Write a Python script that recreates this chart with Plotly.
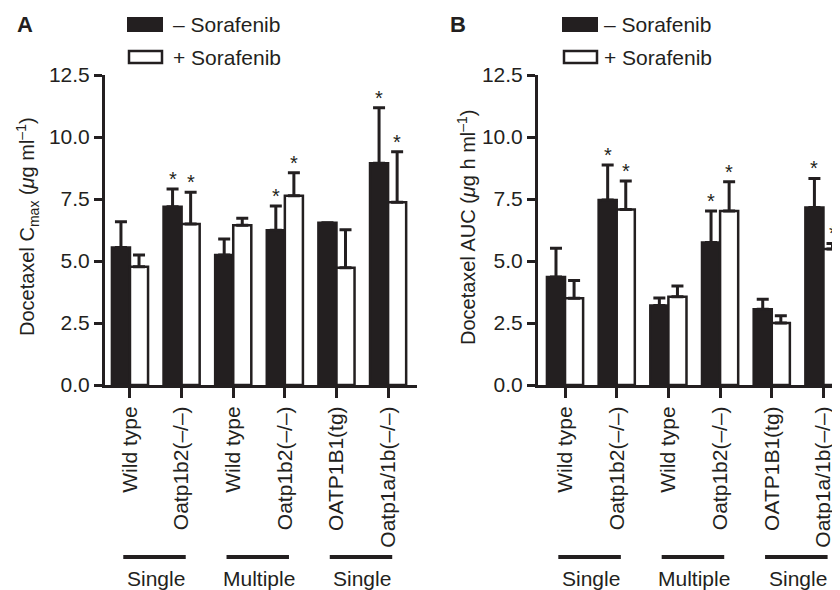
import plotly.graph_objects as go

# ---------------- data ----------------
categories = ["Wild type", "Oatp1b2(–/–)", "Wild type", "Oatp1b2(–/–)", "OATP1B1(tg)", "Oatp1a/1b(–/–)"]

cmax_minus = [5.54, 7.19, 5.24, 6.24, 6.54, 8.94]
cmax_minus_sd = [1.04, 0.71, 0.65, 0.98, 0.0, 2.24]
cmax_plus = [4.77, 6.49, 6.44, 7.63, 4.73, 7.37]
cmax_plus_sd = [0.47, 1.28, 0.28, 0.93, 1.53, 2.04]

auc_minus = [4.35, 7.46, 3.21, 5.75, 3.05, 7.16]
auc_minus_sd = [1.16, 1.41, 0.30, 1.27, 0.41, 1.17]
auc_plus = [3.50, 7.08, 3.56, 7.02, 2.50, 5.48]
auc_plus_sd = [0.71, 1.15, 0.43, 1.18, 0.29, 0.23]

sig_minus = [False, True, False, True, False, True]
sig_plus = [False, True, False, True, False, True]

groups = [("Single", 0, 1), ("Multiple", 2, 3), ("Single", 4, 5)]
series_names = ["– Sorafenib", "+ Sorafenib"]
y_ticks = [0.0, 2.5, 5.0, 7.5, 10.0, 12.5]

# ---------------- style ----------------
# the page body has an 8px margin; lay the figure out in page pixels
OFF = 8
W, H = 840 - OFF, 590 - OFF
FONT = "Liberation Sans, Arial, Helvetica, sans-serif"
INK = "#231f20"
BAR_W = 0.35
FS = 21


def px(x):
    return (x - OFF) / W


def py(y):
    return 1 - (y - OFF) / H


x_idx = list(range(len(categories)))
fig = go.Figure()

panels = [
    dict(xa="x", ya="y", minus=cmax_minus, minus_sd=cmax_minus_sd, plus=cmax_plus, plus_sd=cmax_plus_sd),
    dict(xa="x2", ya="y2", minus=auc_minus, minus_sd=auc_minus_sd, plus=auc_plus, plus_sd=auc_plus_sd),
]

annotations = []
shapes = []

for p in panels:
    for vals, sds, sig, fill, off in [
        (p["minus"], p["minus_sd"], sig_minus, INK, -BAR_W),
        (p["plus"], p["plus_sd"], sig_plus, "white", 0.0),
    ]:
        fig.add_trace(go.Bar(
            x=x_idx, y=vals, width=BAR_W, offset=off,
            xaxis=p["xa"], yaxis=p["ya"],
            marker=dict(color=fill, line=dict(color=INK, width=2.5)),
            error_y=dict(type="data", symmetric=False, array=sds,
                         arrayminus=[0] * len(sds), color=INK, thickness=3, width=6),
            showlegend=False, hoverinfo="skip",
        ))
        for i, (v, s, g) in enumerate(zip(vals, sds, sig)):
            if g:
                annotations.append(dict(
                    x=i + off + BAR_W / 2, y=v + s, xref=p["xa"], yref=p["ya"],
                    text="*", showarrow=False, xanchor="center", yanchor="middle", yshift=10,
                    font=dict(size=20, color=INK, family=FONT)))
    # group bars and labels under axis
    for name, a, b in groups:
        shapes.append(dict(type="line", xref=p["xa"], yref="paper",
                           x0=a - 0.13, x1=b + 0.08, y0=py(557), y1=py(557),
                           line=dict(color=INK, width=4)))
        annotations.append(dict(x=(a + b) / 2, y=py(578), xref=p["xa"], yref="paper",
                                text=name, showarrow=False, xanchor="center", yanchor="middle",
                                font=dict(size=FS, color=INK, family=FONT)))

# legends (swatches + text)
for lx, tx in [(128, 171), (563, 602)]:
    shapes.append(dict(type="rect", xref="paper", yref="paper",
                       x0=px(lx), x1=px(lx + 34), y0=py(31), y1=py(18),
                       fillcolor=INK, line=dict(color=INK, width=2)))
    shapes.append(dict(type="rect", xref="paper", yref="paper",
                       x0=px(lx + 1), x1=px(lx + 34), y0=py(63), y1=py(51),
                       fillcolor="white", line=dict(color=INK, width=2.5)))
    annotations.append(dict(x=px(tx), y=py(24), xref="paper", yref="paper",
                            text=series_names[0], showarrow=False, xanchor="left",
                            yanchor="middle", font=dict(size=FS, color=INK, family=FONT)))
    annotations.append(dict(x=px(tx), y=py(57), xref="paper", yref="paper",
                            text=series_names[1], showarrow=False, xanchor="left",
                            yanchor="middle", font=dict(size=FS, color=INK, family=FONT)))

# panel letters
for letter, lx in [("A", 25), ("B", 458)]:
    annotations.append(dict(x=px(lx), y=py(24), xref="paper", yref="paper",
                            text="<b>%s</b>" % letter, showarrow=False,
                            xanchor="center", yanchor="middle",
                            font=dict(size=22, color=INK, family=FONT)))

# y-axis titles
for title, lx in [("Docetaxel C<sub>max</sub> (<i>μ</i>g ml<sup>–1</sup>)", 27),
                  ("Docetaxel AUC (<i>μ</i>g h ml<sup>–1</sup>)", 466)]:
    annotations.append(dict(x=px(lx), y=py(227), xref="paper", yref="paper",
                            text=title, showarrow=False, textangle=-90,
                            xanchor="center", yanchor="middle",
                            font=dict(size=20, color=INK, family=FONT)))

xcommon = dict(tickmode="array", tickvals=x_idx, ticktext=categories, tickangle=-90,
               showline=True, linecolor=INK, linewidth=3, ticks="outside",
               ticklen=10, tickwidth=3, tickcolor=INK, showgrid=False, zeroline=False,
               tickfont=dict(size=FS, color=INK, family=FONT), ticklabelstandoff=0,
               automargin=False)
ycommon = dict(range=[0, 12.5], tickmode="array", tickvals=y_ticks,
               ticktext=["%.1f" % t for t in y_ticks],
               showline=True, linecolor=INK, linewidth=3, ticks="outside",
               ticklen=8, tickwidth=3, tickcolor=INK, showgrid=False, zeroline=False,
               tickfont=dict(size=FS, color=INK, family=FONT), ticklabelstandoff=0,
               automargin=False)

fig.update_layout(
    width=W, height=H,
    margin=dict(l=0, r=0, t=0, b=0, autoexpand=False),
    paper_bgcolor="white", plot_bgcolor="white",
    barmode="overlay",
    font=dict(family=FONT, color=INK),
    xaxis=dict(domain=[px(105), px(417)], range=[-0.484, 5.56], anchor="y", **xcommon),
    xaxis2=dict(domain=[px(538), 1.0], range=[-0.523, 5.32], anchor="y2", **xcommon),
    yaxis=dict(domain=[py(385), py(75)], anchor="x", **ycommon),
    yaxis2=dict(domain=[py(385), py(75)], anchor="x2", **ycommon),
    annotations=annotations,
    shapes=shapes,
)

fig.write_html("out.html")
